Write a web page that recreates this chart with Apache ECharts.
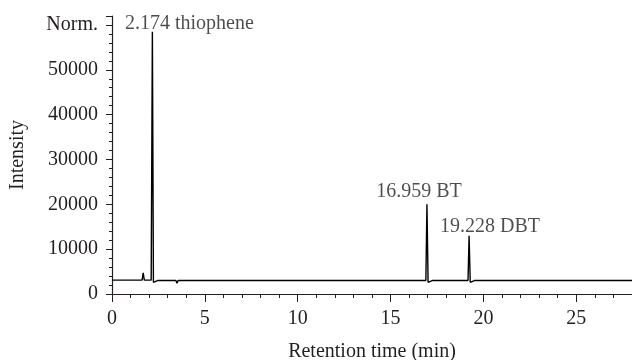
<!DOCTYPE html>
<html>
<head>
<meta charset="utf-8">
<script src="https://cdn.jsdelivr.net/npm/echarts@6/dist/echarts.min.js"></script>
<style>
html,body{margin:0;padding:0;background:#fff;}
#chart{width:632px;height:360px;}
</style>
</head>
<body>
<div id="chart"></div>
<script>
// chromatogram trace (time in min, intensity)
var traceTime = [0, 1.62, 1.68, 1.74, 2.11, 2.174, 2.23, 2.45, 3.44, 3.5, 3.56, 16.9, 16.959, 17.02, 17.24, 19.17, 19.228, 19.29, 19.51, 28];
var traceIntensity = [3100, 3100, 4700, 3100, 3100, 58500, 2600, 3000, 3000, 2400, 3000, 3000, 20000, 2600, 3000, 3000, 13000, 2600, 3000, 3000];
// labelled peaks
var peakTime = [2.174, 16.959, 19.228];
var peakIntensity = [58500, 20000, 13000];
var peakName = ['2.174 thiophene', '16.959 BT', '19.228 DBT'];
var peakLabelShift = [[37, 5], [-8, 0], [21, 4]];

var font = 'Liberation Serif';
var textColor = '#231f20';

var myChart = echarts.init(document.getElementById('chart'));

var lineData = traceTime.map(function(t, i){ return [t, traceIntensity[i]]; });
var peakData = peakTime.map(function(t, i){
	return {
		value: [t, peakIntensity[i]],
		name: peakName[i],
		label: {offset: peakLabelShift[i]}
	};
});

var option = {
	animation: false,
	grid: {left: 112, right: 0, top: 16, bottom: 66, containLabel: false, outerBoundsMode: 'none'},
	xAxis: {
		type: 'value',
		min: 0,
		max: 28,
		interval: 5,
		name: 'Retention time (min)',
		nameLocation: 'middle',
		nameGap: 48,
		nameTextStyle: {fontFamily: font, fontSize: 20, color: textColor},
		axisLine: {lineStyle: {color: '#231f20', width: 1.2}},
		axisTick: {show: true, length: 8, lineStyle: {color: '#231f20'}},
		minorTick: {show: true, splitNumber: 5, length: 4, lineStyle: {color: '#231f20'}},
		axisLabel: {
			fontFamily: font, fontSize: 20, color: textColor, margin: 15,
			showMaxLabel: false
		},
		splitLine: {show: false}
	},
	yAxis: {
		type: 'value',
		min: 0,
		max: 62000,
		interval: 10000,
		name: 'Intensity',
		nameLocation: 'middle',
		nameGap: 84,
		nameTextStyle: {fontFamily: font, fontSize: 20, color: textColor},
		axisLine: {show: true, lineStyle: {color: '#231f20', width: 1.2}},
		axisTick: {show: true, length: 6, lineStyle: {color: '#231f20'}},
		minorTick: {show: true, splitNumber: 5, length: 3, lineStyle: {color: '#231f20'}},
		axisLabel: {
			fontFamily: font, fontSize: 20, color: textColor, margin: 14,
			formatter: function(v){
				if(v === 60000) return 'Norm.';
				if(v > 60000) return '';
				return v;
			}
		},
		splitLine: {show: false}
	},
	series: [
		{
			type: 'line',
			data: lineData,
			showSymbol: false,
			symbol: 'none',
			lineStyle: {color: '#000', width: 1.4},
			z: 2
		},
		{
			type: 'scatter',
			data: peakData,
			symbolSize: 1,
			itemStyle: {color: 'rgba(0,0,0,0)'},
			label: {
				show: true,
				position: 'top',
				distance: 2,
				formatter: '{b}',
				fontFamily: font,
				fontSize: 20,
				color: textColor
			},
			z: 3
		}
	]
};
myChart.setOption(option);
</script>
</body>
</html>
